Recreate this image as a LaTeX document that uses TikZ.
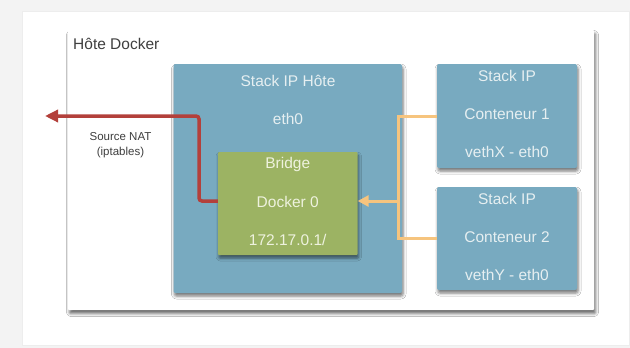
\documentclass[tikz,border=0pt]{standalone}
\usepackage{fontspec}
\setmainfont{Liberation Sans}
\usetikzlibrary{arrows.meta,shadows.blur}
\definecolor{pagebg}{HTML}{F3F3F3}
\definecolor{boxblue}{HTML}{78AAC0}
\definecolor{boxgreen}{HTML}{9CB363}
\definecolor{natred}{HTML}{B3403B}
\definecolor{linkorange}{HTML}{F6C47E}
\definecolor{lighttext}{HTML}{E6EFF1}
\definecolor{greentext}{HTML}{EEF2DE}
\definecolor{darktext}{HTML}{3F3F3F}
\tikzset{
  panelbox/.style={fill=white, draw=none, rounded corners=1pt,
    blur shadow={shadow xshift=1.5pt, shadow yshift=-3.5pt, shadow blur radius=3pt, shadow opacity=60}},
  bluebox/.style={fill=boxblue, draw=none, rounded corners=2pt,
    blur shadow={shadow xshift=1pt, shadow yshift=-3pt, shadow blur radius=3pt, shadow opacity=55}},
  greenbox/.style={fill=boxgreen, draw=none, rounded corners=1pt,
    blur shadow={shadow xshift=1pt, shadow yshift=-3pt, shadow blur radius=3pt, shadow opacity=55}},
  bluetxt/.style={text=lighttext, font=\fontsize{15.5}{18}\selectfont, inner sep=0pt},
  greentxt/.style={text=greentext, font=\fontsize{15.5}{18}\selectfont, inner sep=0pt},
  natline/.style={draw=natred, line width=3.5pt, rounded corners=3pt},
  linkline/.style={draw=linkorange, line width=3pt},
}
\begin{document}
\begin{tikzpicture}[x=1pt,y=-1pt]
\useasboundingbox (0,0) rectangle (630,348);
\fill[pagebg] (0,0) rectangle (630,348);
\fill[white] (22,11) rectangle (630,345);
\draw[black!7, line width=0.6pt] (22,11) rectangle (629,345);

% host box
\path[panelbox] (68,30) rectangle (594,310);
\node[anchor=west, text=darktext, font=\fontsize{15.5}{18}\selectfont, inner sep=0pt] (hostlbl) at (73,44) {Hôte Docker};

% host IP stack
\path[bluebox] (173.5,64) rectangle (402,293);
\node[bluetxt] (hostip) at (288,81) {Stack IP Hôte};
\node[bluetxt] (eth) at (288,119) {eth0};

% bridge
\node[greenbox, minimum width=139.5pt, minimum height=103pt, inner sep=0pt] (bridge) at (287.75,203.5) {};
\node[greentxt] (brlbl) at (287.75,164) {Bridge};
\node[greentxt] (dock) at (287.75,202) {Docker 0};
\node[greentxt] (ip) at (287.75,240) {172.17.0.1/};

% containers
\node[bluebox, minimum width=140pt, minimum height=104pt, inner sep=0pt] (c1) at (507,116) {};
\node[bluetxt] (c1a) at (507,76) {Stack IP};
\node[bluetxt] (c1b) at (507,114) {Conteneur 1};
\node[bluetxt] (c1c) at (507,152) {vethX - eth0};

\node[bluebox, minimum width=140pt, minimum height=103pt, inner sep=0pt] (c2) at (507,238.5) {};
\node[bluetxt] (c2a) at (507,199) {Stack IP};
\node[bluetxt] (c2b) at (507,237) {Conteneur 2};
\node[bluetxt] (c2c) at (507,275) {vethY - eth0};

% orange links
\coordinate (junc) at (398,201);
\draw[linkline] (c1.west) -| (junc);
\draw[linkline] (c2.west) -| (junc);
\draw[linkline, -{Triangle[length=11pt,width=11pt]}] (junc) -- (bridge.east |- junc);

% red NAT arrow
\coordinate (natend) at (45,116);
\draw[natline, -{Triangle[length=13pt,width=12pt]}] (bridge.west |- junc) -- (199,201) |- (natend);
\node[text=darktext, font=\fontsize{11.5}{15}\selectfont, align=center, inner sep=0pt] (natlbl) at (120.5,145.5) {Source NAT\\(iptables)};
\end{tikzpicture}
\end{document}
